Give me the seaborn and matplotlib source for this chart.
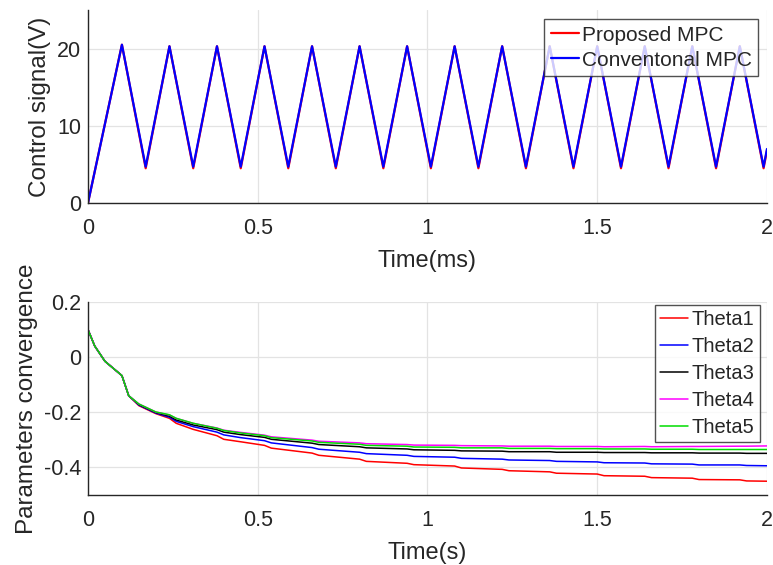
import numpy as np
import pandas as pd
import matplotlib
matplotlib.use("Agg")
import matplotlib.pyplot as plt
import seaborn as sns

# ---------------- data: control signal (vertices of the waveform) ----------------
ctrl_t = [0, 0.10, 0.17, 0.24, 0.31, 0.38, 0.45, 0.52, 0.59, 0.66, 0.73, 0.80, 0.87, 0.94,
          1.01, 1.08, 1.15, 1.22, 1.29, 1.36, 1.43, 1.50, 1.57, 1.64, 1.71, 1.78, 1.85,
          1.92, 1.99, 2.00]
proposed_u = [0, 20.5, 4.5, 20.3, 4.5, 20.3, 4.5, 20.3, 4.5, 20.3, 4.5, 20.3, 4.5, 20.3,
              4.5, 20.3, 4.5, 20.3, 4.5, 20.3, 4.5, 20.3, 4.5, 20.3, 4.5, 20.3, 4.5,
              20.3, 4.5, 6.8]
conventional_u = [0, 20.5, 4.7, 20.3, 4.7, 20.3, 4.7, 20.3, 4.7, 20.3, 4.7, 20.3, 4.7, 20.3,
                  4.7, 20.3, 4.7, 20.3, 4.7, 20.3, 4.7, 20.3, 4.7, 20.3, 4.7, 20.3, 4.7,
                  20.3, 4.7, 7.0]
ctrl_names = ["Proposed MPC", "Conventonal MPC"]

# ---------------- data: parameter convergence ----------------
theta_t = [0, 0.02, 0.05, 0.10, 0.12, 0.15, 0.20, 0.24, 0.26, 0.31, 0.38, 0.40, 0.45,
           0.52, 0.54, 0.66, 0.68, 0.80, 0.82, 0.94, 0.96, 1.08, 1.10, 1.22, 1.24,
           1.36, 1.38, 1.50, 1.52, 1.64, 1.66, 1.78, 1.80, 1.92, 1.94, 2.00]
theta1 = [0.10, 0.04, -0.015, -0.067, -0.14, -0.176, -0.205, -0.222, -0.240, -0.262, -0.285,
          -0.298, -0.307, -0.320, -0.330, -0.348, -0.356, -0.370, -0.378, -0.385, -0.390,
          -0.395, -0.402, -0.407, -0.412, -0.416, -0.421, -0.424, -0.430, -0.432, -0.437,
          -0.439, -0.444, -0.445, -0.449, -0.450]
theta2 = [0.10, 0.04, -0.015, -0.067, -0.14, -0.174, -0.203, -0.218, -0.233, -0.252, -0.272,
          -0.282, -0.292, -0.303, -0.311, -0.328, -0.334, -0.345, -0.350, -0.356, -0.360,
          -0.363, -0.367, -0.370, -0.373, -0.375, -0.378, -0.380, -0.383, -0.384, -0.387,
          -0.388, -0.391, -0.391, -0.393, -0.394]
theta3 = [0.10, 0.04, -0.015, -0.067, -0.14, -0.172, -0.201, -0.214, -0.228, -0.246, -0.263,
          -0.272, -0.281, -0.291, -0.298, -0.312, -0.317, -0.325, -0.329, -0.333, -0.336,
          -0.338, -0.340, -0.341, -0.343, -0.343, -0.345, -0.345, -0.346, -0.346, -0.347,
          -0.347, -0.348, -0.348, -0.349, -0.349]
theta4 = [0.10, 0.04, -0.015, -0.067, -0.14, -0.170, -0.199, -0.210, -0.222, -0.240, -0.257,
          -0.265, -0.273, -0.283, -0.289, -0.301, -0.305, -0.311, -0.314, -0.317, -0.319,
          -0.320, -0.321, -0.322, -0.323, -0.323, -0.324, -0.324, -0.325, -0.324, -0.325,
          -0.324, -0.324, -0.323, -0.323, -0.322]
theta5 = [0.10, 0.04, -0.015, -0.067, -0.14, -0.170, -0.199, -0.209, -0.222, -0.240, -0.258,
          -0.266, -0.275, -0.285, -0.292, -0.304, -0.309, -0.316, -0.320, -0.323, -0.326,
          -0.327, -0.329, -0.329, -0.331, -0.331, -0.332, -0.332, -0.333, -0.333, -0.334,
          -0.334, -0.335, -0.335, -0.335, -0.335]
theta_names = ["Theta1", "Theta2", "Theta3", "Theta4", "Theta5"]

x_ticks = [0, 0.5, 1, 1.5, 2]
x_ticklabels = ["0", "0.5", "1", "1.5", "2"]
top_yticks = [0, 10, 20]
top_yticklabels = ["0", "10", "20"]
bot_yticks = [-0.4, -0.2, 0, 0.2]
bot_yticklabels = ["-0.4", "-0.2", "0", "0.2"]

# ---------------- build long tables ----------------
ctrl_df = pd.concat([
    pd.DataFrame({"t": ctrl_t, "u": proposed_u, "series": ctrl_names[0]}),
    pd.DataFrame({"t": ctrl_t, "u": conventional_u, "series": ctrl_names[1]}),
], ignore_index=True)

theta_df = pd.concat([
    pd.DataFrame({"t": theta_t, "v": vals, "series": name})
    for name, vals in zip(theta_names, [theta1, theta2, theta3, theta4, theta5])
], ignore_index=True)

# ---------------- style ----------------
sns.set_style("white")
plt.rcParams["font.family"] = ["Liberation Sans", "DejaVu Sans"]
dark = "#262626"
plt.rcParams.update({
    "axes.edgecolor": dark,
    "xtick.color": dark,
    "ytick.color": dark,
    "axes.labelcolor": dark,
    "text.color": dark,
})

fig = plt.figure(figsize=(7.73, 5.65), dpi=100)
ax1 = fig.add_axes([0.1138, 0.6407, 0.8784, 0.3416])
ax2 = fig.add_axes([0.1138, 0.1239, 0.8784, 0.3416])

sns.lineplot(data=ctrl_df, x="t", y="u", hue="series", hue_order=ctrl_names,
             palette=["#ff0000", "#0000ff"], linewidth=1.6, ax=ax1, sort=False,
             estimator=None)
sns.lineplot(data=theta_df, x="t", y="v", hue="series", hue_order=theta_names,
             palette=["#ff0000", "#0000ff", "#000000", "#ff00ff", "#00dd00"],
             linewidth=1.1, ax=ax2, sort=False, estimator=None)

for ax, yt, ytl, ylim, xl, yl in [
    (ax1, top_yticks, top_yticklabels, (0, 25), "Time(ms)", "Control signal(V)"),
    (ax2, bot_yticks, bot_yticklabels, (-0.5, 0.2), "Time(s)", "Parameters convergence"),
]:
    ax.set_xlim(0, 2)
    ax.set_ylim(*ylim)
    ax.set_xticks(x_ticks)
    ax.set_xticklabels(x_ticklabels)
    ax.set_yticks(yt)
    ax.set_yticklabels(ytl)
    ax.grid(True, color="#e3e3e3", linewidth=0.9)
    ax.set_axisbelow(True)
    for s in ["top", "right"]:
        ax.spines[s].set_visible(False)
    for s in ["left", "bottom"]:
        ax.spines[s].set_linewidth(1.0)
    ax.tick_params(direction="in", length=5, width=1.0, labelsize=15.5)
    ax.tick_params(axis="x", pad=10.5)
    ax.tick_params(axis="y", pad=5)
    ax.set_xlabel(xl, fontsize=17, labelpad=8)
    ax.set_ylabel(yl, fontsize=17.5, labelpad=4)

leg1 = ax1.legend(loc="upper right", bbox_to_anchor=(0.9868, 0.952), borderaxespad=0,
                  fontsize=15, frameon=True, fancybox=False,
                  handlelength=1.35, handletextpad=0.15, borderpad=0.3,
                  labelspacing=0.3)
leg1.get_frame().set_edgecolor(dark)
leg1.get_frame().set_linewidth(1.0)

leg2 = ax2.legend(loc="upper right", bbox_to_anchor=(0.9893, 0.9845), borderaxespad=0,
                  fontsize=14.5, frameon=True, fancybox=False,
                  handlelength=1.4, handletextpad=0.2, borderpad=0.25,
                  labelspacing=0.4)
leg2.get_frame().set_edgecolor(dark)
leg2.get_frame().set_linewidth(1.0)

fig.savefig("out.png", dpi=100)
